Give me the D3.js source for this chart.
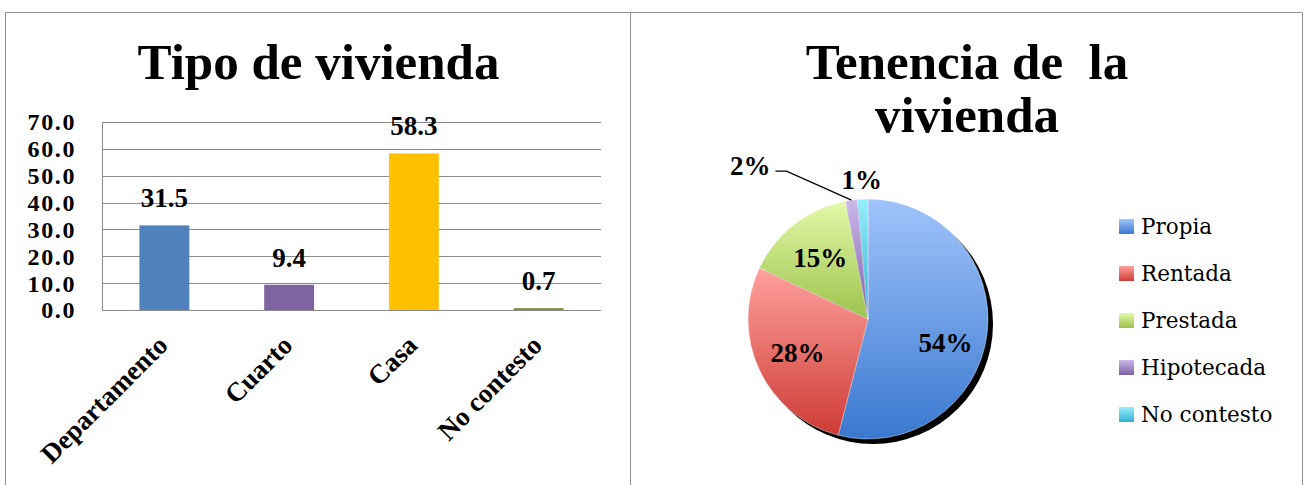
<!DOCTYPE html>
<html>
<head>
<meta charset="utf-8">
<script src="https://cdn.jsdelivr.net/npm/d3@7/dist/d3.min.js"></script>
<style>
  html, body { margin: 0; padding: 0; background: #fff; }
  svg { display: block; }
  text { white-space: pre; }
</style>
</head>
<body>
<svg id="chart" width="1309" height="485"></svg>
<script>
// ---------- data ----------
const barTitle = "Tipo de vivienda";
const categories = ["Departamento", "Cuarto", "Casa", "No contesto"];
const barValues = [31.5, 9.4, 58.3, 0.7];
const barColors = ["#4F81BD", "#8064A2", "#FFC000", "#77933C"];
const yTicks = [0, 10, 20, 30, 40, 50, 60, 70];

const pieTitleLines = ["Tenencia de  la", "vivienda"];
const pieCategories = ["Propia", "Rentada", "Prestada", "Hipotecada", "No contesto"];
const pieValues = [54.0, 28.0, 15.0, 1.6, 1.4];
const pieColorsLight = ["#A0C4FB", "#FFA19D", "#E3F9A8", "#CDB9EC", "#95EEFB"];
const pieColorsDark  = ["#3A78CF", "#CE3B36", "#9CC24C", "#7D5FA5", "#33B1D0"];

// ---------- setup ----------
const svg = d3.select("#chart");
const boldFont = "'Liberation Serif', 'Times New Roman', serif";
const legendFont = "'DejaVu Serif', serif";

// panel borders
svg.append("path")
  .attr("d", "M5.5,490 V12.5 H1302.5 V490 M630.5,12.5 V490")
  .attr("fill", "none").attr("stroke", "#8f8f8f").attr("stroke-width", 1);

// ---------- bar chart ----------
const plot = { left: 102, right: 601, top: 122, bottom: 310 };

const x = d3.scaleBand()
  .domain(categories)
  .range([plot.left, plot.right])
  .paddingInner(0.6)
  .paddingOuter(0.3);

const y = d3.scaleLinear()
  .domain([0, 70])
  .range([plot.bottom, plot.top]);

svg.append("text")
  .attr("x", 318.5).attr("y", 79)
  .attr("text-anchor", "middle")
  .attr("font-family", boldFont).attr("font-weight", "bold")
  .attr("font-size", 51)
  .text(barTitle);

// gridlines
const yAxis = d3.axisLeft(y)
  .tickValues(yTicks)
  .tickSize(-(plot.right - plot.left))
  .tickFormat(d3.format(".1f"))
  .tickPadding(26);

const gy = svg.append("g")
  .attr("transform", `translate(${plot.left},0)`)
  .call(yAxis);
gy.select(".domain").remove();
gy.selectAll(".tick line")
  .attr("stroke", "#8c8c8c")
  .attr("shape-rendering", "crispEdges");
gy.selectAll(".tick text")
  .attr("font-family", boldFont).attr("font-weight", "bold")
  .attr("font-size", 24).attr("fill", "#000")
  .attr("letter-spacing", 1.6)
  .attr("dy", "0.33em");

// vertical axis line
svg.append("line")
  .attr("x1", plot.left + 0.5).attr("x2", plot.left + 0.5)
  .attr("y1", y(70)).attr("y2", y(0))
  .attr("stroke", "#8c8c8c");

// bars
svg.append("g").selectAll("rect")
  .data(barValues)
  .join("rect")
  .attr("x", (d, i) => x(categories[i]))
  .attr("width", x.bandwidth())
  .attr("y", d => y(d))
  .attr("height", d => y(0) - y(d))
  .attr("fill", (d, i) => barColors[i]);

// baseline
svg.append("line")
  .attr("x1", plot.left).attr("x2", plot.right)
  .attr("y1", y(0) + 0.5).attr("y2", y(0) + 0.5)
  .attr("stroke", "#8c8c8c");

// value labels
svg.append("g").selectAll("text")
  .data(barValues)
  .join("text")
  .attr("x", (d, i) => x(categories[i]) + x.bandwidth() / 2)
  .attr("y", d => y(d) - 18)
  .attr("text-anchor", "middle")
  .attr("font-family", boldFont).attr("font-weight", "bold")
  .attr("font-size", 27)
  .text(d => d3.format(".1f")(d));

// category labels
svg.append("g").selectAll("text")
  .data(categories)
  .join("text")
  .attr("transform", d => `translate(${x(d) + x.bandwidth() / 2 + 5},${y(0) + 37}) rotate(-45)`)
  .attr("text-anchor", "end")
  .attr("font-family", boldFont).attr("font-weight", "bold")
  .attr("font-size", 27)
  .text(d => d);

// ---------- pie chart ----------
const cx = 868, cy = 319, R = 120;

const pieTitle = svg.append("text")
  .attr("text-anchor", "middle")
  .attr("font-family", boldFont).attr("font-weight", "bold")
  .attr("font-size", 51);
pieTitle.selectAll("tspan")
  .data(pieTitleLines)
  .join("tspan")
  .attr("x", 967)
  .attr("y", (d, i) => 79 + i * 53)
  .text(d => d);

const defs = svg.append("defs");
pieCategories.forEach((c, i) => {
  const g = defs.append("linearGradient")
    .attr("id", "pg" + i)
    .attr("x1", 0).attr("y1", 0).attr("x2", 0).attr("y2", 1);
  g.append("stop").attr("offset", "0%").attr("stop-color", pieColorsLight[i]);
  g.append("stop").attr("offset", "100%").attr("stop-color", pieColorsDark[i]);
});

const pie = d3.pie().sort(null).value(d => d);
const arcs = pie(pieValues);
const arc = d3.arc().innerRadius(0).outerRadius(R);

const pg = svg.append("g").attr("transform", `translate(${cx},${cy})`);

// shadow
pg.append("circle")
  .attr("cx", 5).attr("cy", 5).attr("r", R)
  .attr("fill", "#000");

pg.selectAll("path.slice")
  .data(arcs)
  .join("path")
  .attr("class", "slice")
  .attr("d", arc)
  .attr("fill", (d, i) => `url(#pg${i})`)
  .attr("stroke", "#ffffff")
  .attr("stroke-opacity", 0.5)
  .attr("stroke-width", 0.8);

const total = d3.sum(pieValues);
const pct = d => Math.round(d.value / total * 100) + "%";
const labelArc = d3.arc().innerRadius(0).outerRadius(R * 1.3);
const outerPos = (d, r) => {
  const a = (d.startAngle + d.endAngle) / 2;
  return [Math.sin(a) * r, -Math.cos(a) * r];
};

arcs.forEach((d, i) => {
  const share = d.value / total;
  const t = pg.append("text")
    .attr("font-family", boldFont).attr("font-weight", "bold")
    .attr("font-size", 27)
    .attr("dy", "0.35em")
    .text(pct(d));
  if (share >= 0.05) {
    let [lx, ly] = labelArc.centroid(d);
    // best-fit: keep large-slice labels clear of the slice edges
    if (share > 0.5) ly += 14;
    t.attr("x", lx).attr("y", ly).attr("text-anchor", "middle");
  } else if (i === pieValues.length - 1) {
    const [lx, ly] = outerPos(d, R + 20);
    t.attr("x", lx).attr("y", ly).attr("text-anchor", "middle");
  } else {
    // displaced label with leader line
    const [ex, ey] = outerPos(d, R);
    const elbow = [ex - 65, ey - 29];
    const end = [elbow[0] - 11, elbow[1]];
    pg.append("polyline")
      .attr("points", [[ex, ey], elbow, end].map(p => p.join(",")).join(" "))
      .attr("fill", "none").attr("stroke", "#000").attr("stroke-width", 1.2);
    t.attr("x", end[0] - 5).attr("y", end[1] - 6).attr("text-anchor", "end");
  }
});

// legend
const legend = svg.append("g");
const lg = legend.selectAll("g")
  .data(pieCategories)
  .join("g")
  .attr("transform", (d, i) => `translate(1119,${226.5 + i * 47})`);
lg.append("rect")
  .attr("x", 0).attr("y", -7.5).attr("width", 15).attr("height", 15)
  .attr("fill", (d, i) => `url(#pg${i})`);
lg.append("text")
  .attr("x", 22).attr("y", 0).attr("dy", "0.36em")
  .attr("font-family", legendFont)
  .attr("font-size", 21.5)
  .attr("fill", "#000")
  .text(d => d);
</script>
</body>
</html>
